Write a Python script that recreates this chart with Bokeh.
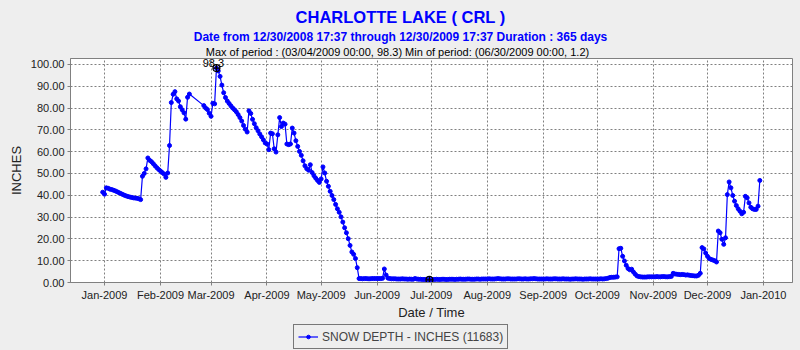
import pandas as pd
from datetime import datetime
from bokeh.plotting import figure
from bokeh.layouts import column
from bokeh.models import (Range1d, FixedTicker, DatetimeTickFormatter, PrintfTickFormatter,
                          Title, Legend, LegendItem, ColumnDataSource)
from bokeh.core.properties import value
from bokeh.embed import file_html
from bokeh.resources import INLINE

# ---------------- texts ----------------
title_text = "CHARLOTTE LAKE ( CRL )"
subtitle_text = "Date from 12/30/2008 17:37 through 12/30/2009 17:37 Duration : 365 days"
stats_text = "Max of period : (03/04/2009 00:00, 98.3)  Min of period: (06/30/2009 00:00,  1.2)"
series_name = "SNOW DEPTH - INCHES (11683)"
x_label = "Date / Time"
y_label = "INCHES"

# ---------------- ticks ----------------
month_ticks = ["2009-01-01", "2009-02-01", "2009-03-01", "2009-04-01", "2009-05-01",
               "2009-06-01", "2009-07-01", "2009-08-01", "2009-09-01", "2009-10-01",
               "2009-11-01", "2009-12-01", "2010-01-01"]
y_ticks = [0, 10, 20, 30, 40, 50, 60, 70, 80, 90, 100]

# ---------------- data (daily snow depth, inches; None = no reading) ----------------
dec08 = [41.4]  # starts 2008-12-31
jan09 = [40.5, 43.4, 43.2, 42.8, 42.6, 42.3, 42.0, 41.6, 41.2, 40.8, 40.4, 40.0, 39.7, 39.4,
         39.2, 39.0, 38.8, 38.7, 38.6, 38.4, 38.0, 48.7, 50.0, 52.1, 57.1, 56.0, 55.4, 54.5,
         53.5, 52.6, 51.8]
feb09 = [51.1, 50.4, 49.7, 48.2, 50.2, 62.8, 82.5, 86.3, 87.5, 84.2, 83.2, 80.6, 79.2, 77.8,
         74.9, 84.9, 86.4, None, None, None, None, None, None, None, 81.1, 80.0, 79.3, 77.6]
mar09 = [76.2, 82.2, 81.9, 98.3, 97.0, 94.5, 90.5, 87.0, 84.8, 83.2, 82.1, 81.0, 80.0, 79.2,
         78.3, 77.0, 75.6, 74.0, 72.0, 70.3, 69.0, 78.7, 77.5, 74.8, 72.8, 71.0, 69.6, 68.1,
         66.8, 65.4, 64.0]
apr09 = [63.5, 60.9, 68.5, 68.2, 61.3, 59.8, 67.7, 75.6, 71.5, 73.1, 72.6, 63.5, 63.2, 63.5,
         70.8, 68.5, 65.0, 62.4, 60.1, 58.3, 55.8, 53.5, 52.2, 51.5, 54.0, 50.4, 49.0, 47.8,
         46.8, 45.9]
may09 = [47.5, 53.0, 50.2, 46.4, 44.1, 41.8, 39.9, 38.0, 35.8, 33.8, 32.2, 30.1, 27.7, 25.1,
         22.8, 20.1, 17.0, 14.0, 12.9, 11.0, 6.8, 1.8, 1.8, 1.7, 1.8, 1.8, 1.7, 1.7, 1.8, 1.8,
         1.8]
jun09 = [1.8, 1.8, 1.8, 1.9, 6.2, 3.4, 2.0, 1.8, 1.7, 1.7, 1.7, 1.6, 1.6, 1.6, 1.7, 1.6, 1.6,
         1.5, 1.6, 1.5, 1.5, 1.8, 1.6, 1.5, 1.5, 1.4, 1.4, 1.4, 1.3, 1.2]
jul09 = [1.3, 1.4, 1.4, 1.5, 1.4, 1.4, 1.5, 1.5, 1.4, 1.4, 1.5, 1.5, 1.5, 1.4, 1.5, 1.5, 1.6,
         1.5, 1.5, 1.5, 1.6, 1.6, 1.5, 1.5, 1.5, 1.6, 1.6, 1.5, 1.6, 1.6, 1.6]
aug09 = [1.6, 1.7, 1.6, 1.6, 1.6, 1.7, 1.8, 1.7, 1.6, 1.6, 1.6, 1.7, 1.7, 1.6, 1.6, 1.6, 1.6,
         1.7, 1.7, 1.6, 1.6, 1.7, 1.6, 1.6, 1.7, 1.7, 1.8, 1.7, 1.6, 1.6, 1.6]
sep09 = [1.6, 1.6, 1.7, 1.6, 1.6, 1.6, 1.7, 1.7, 1.6, 1.6, 1.6, 1.7, 1.6, 1.6, 1.6, 1.5, 1.6,
         1.6, 1.7, 1.6, 1.6, 1.6, 1.5, 1.6, 1.6, 1.6, 1.7, 1.6, 1.6, 1.6]
oct09 = [1.6, 1.6, 1.7, 1.6, 1.7, 1.8, 2.0, 2.3, 2.4, 2.4, 2.5, 2.6, 15.5, 15.7, 12.0, 9.9,
         7.9, 6.4, 5.8, 6.1, 4.8, 3.8, 3.0, 2.7, 2.6, 2.5, 2.5, 2.5, 2.6, 2.6, 2.6]
nov09 = [2.6, 2.6, 2.7, 2.6, 2.6, 2.7, 2.7, 2.6, 2.6, 2.7, 2.8, 4.2, 3.9, 3.8, 3.7, 3.6, 3.7,
         3.6, 3.4, 3.5, 3.3, 3.2, 3.1, 3.0, 3.0, 3.3, 4.2, 16.0, 15.4, 13.5]
dec09 = [12.0, 11.0, 10.6, 10.3, 10.0, 9.4, 23.6, 22.8, 19.8, 17.5, 20.5, 40.3, 46.1, 43.4,
         39.9, 37.3, 35.3, 33.8, 32.7, 31.5, 32.2, 39.5, 38.8, 36.5, 34.5, 33.8, 33.5, 33.5,
         35.0, 46.8]

blocks = [("2008-12-31", dec08), ("2009-01-01", jan09), ("2009-02-01", feb09),
          ("2009-03-01", mar09), ("2009-04-01", apr09), ("2009-05-01", may09),
          ("2009-06-01", jun09), ("2009-07-01", jul09), ("2009-08-01", aug09),
          ("2009-09-01", sep09), ("2009-10-01", oct09), ("2009-11-01", nov09),
          ("2009-12-01", dec09)]

dates, vals = [], []
for start, block in blocks:
    for d, v in zip(pd.date_range(start, periods=len(block), freq="D"), block):
        if v is not None:
            dates.append(d)
            vals.append(v)

src = ColumnDataSource(dict(date=dates, depth=vals))
imax = max(range(len(vals)), key=lambda i: vals[i])
imin = min(range(len(vals)), key=lambda i: vals[i])

# ---------------- main figure ----------------
FONT = "Liberation Sans"
BG = "#EEEEEE"
BLUE = "#0000FF"
W, H_MAIN, H_LEG = 800, 322, 28
FRAME_LEFT = 70

p = figure(width=W, height=H_MAIN, output_backend="svg", toolbar_location=None, title=None,
           x_range=Range1d(datetime(2008, 12, 13, 3, 36), datetime(2010, 1, 17, 2, 24)),
           y_range=Range1d(0, 102.7),
           min_border_left=FRAME_LEFT, min_border_right=8, min_border_top=58,
           min_border_bottom=39)
p.border_fill_color = BG
p.background_fill_color = "white"
p.outline_line_color = "#808080"

tick_ms = [pd.Timestamp(t).value // 10**6 for t in month_ticks]
p.xaxis.ticker = FixedTicker(ticks=tick_ms)
fmt = "%b-%Y"
p.xaxis.formatter = DatetimeTickFormatter(years=fmt, months=fmt, days=fmt, hours=fmt,
                                          minutes=fmt, seconds=fmt, milliseconds=fmt,
                                          microseconds=fmt, minsec=fmt, hourmin=fmt)
p.yaxis.ticker = FixedTicker(ticks=y_ticks)
p.yaxis.formatter = PrintfTickFormatter(format="%.2f")

for ax in (p.xaxis[0], p.yaxis[0]):
    ax.axis_line_color = "#808080"
    ax.major_tick_line_color = "#808080"
    ax.major_tick_out = 3
    ax.major_tick_in = 0
    ax.minor_tick_line_color = None
    ax.major_label_text_font = FONT
    ax.major_label_text_font_size = "11px"
    ax.major_label_text_color = "#222222"
    ax.axis_label_text_font = FONT
    ax.axis_label_text_font_size = "13px"
    ax.axis_label_text_font_style = "normal"
    ax.axis_label_text_color = "#222222"
    ax.major_label_standoff = 3

p.xaxis.axis_label = x_label
p.xaxis.axis_label_standoff = 1
p.yaxis.axis_label = y_label
p.yaxis.axis_label_standoff = 4

for g in (p.xgrid[0], p.ygrid[0]):
    g.grid_line_color = "#808080"
    g.grid_line_dash = "2 2"
    g.grid_line_width = 1
p.xgrid.ticker = FixedTicker(ticks=tick_ms)
p.ygrid.ticker = FixedTicker(ticks=y_ticks)

line_r = p.line("date", "depth", source=src, line_color=BLUE, line_width=1.2)
dot_r = p.scatter("date", "depth", source=src, marker="circle", size=4,
                  fill_color=BLUE, line_color=BLUE)

# max / min markers
p.scatter([dates[imax], dates[imin]], [vals[imax], vals[imin]], marker="circle_cross",
          size=7, line_color="black", fill_color=None, line_width=1.2)
p.text([dates[imax]], [vals[imax]], text=["%.1f" % vals[imax]], text_align="center",
       text_baseline="bottom", y_offset=-1, x_offset=-3, text_font=value(FONT),
       text_font_size="11px", text_color="black")

# titles, left-aligned with an offset that centres them on the page
def page_title(txt, size, style, color, em_width, standoff):
    px = float(size.rstrip("px"))
    left = W / 2 - em_width * px / 2
    return Title(text=txt, align="left", offset=left - FRAME_LEFT, standoff=standoff,
                 text_font=FONT, text_font_size=size, text_font_style=style,
                 text_color=color)

p.add_layout(page_title(stats_text, "11px", "normal", "black", 35.41, 1), "above")
p.add_layout(page_title(subtitle_text, "12px", "bold", BLUE, 34.46, 0), "above")
p.add_layout(page_title(title_text, "16.5px", "bold", BLUE, 12.72, 4), "above")

# ---------------- legend strip ----------------
lg = figure(width=W, height=H_LEG, output_backend="svg", toolbar_location=None, title=None,
            x_range=Range1d(0, W), y_range=Range1d(0, H_LEG),
            min_border=0, x_axis_location=None, y_axis_location=None)
lg.border_fill_color = BG
lg.background_fill_color = BG
lg.outline_line_color = None
lg.xgrid.visible = False
lg.ygrid.visible = False
# sample renderers for the legend key (one point, kept outside the visible strip)
key_src = ColumnDataSource(dict(x=[-50], y=[-50]))
leg_line = lg.line("x", "y", source=key_src, line_color=BLUE, line_width=1.2)
leg_dot = lg.scatter("x", "y", source=key_src, marker="circle", size=4,
                     fill_color=BLUE, line_color=BLUE)
legend = Legend(items=[LegendItem(label=series_name, renderers=[leg_line, leg_dot])],
                location=(223, 1), orientation="horizontal",
                border_line_color="black", border_line_width=1,
                background_fill_color=BG, background_fill_alpha=1.0,
                label_text_font=FONT, label_text_font_size="12px",
                glyph_width=20, glyph_height=9, label_height=15,
                padding=4, margin=0, label_standoff=4, spacing=0)
lg.add_layout(legend)

layout = column(p, lg, spacing=0)
layout.background = BG
open("out.html", "w").write(file_html(layout, INLINE))
